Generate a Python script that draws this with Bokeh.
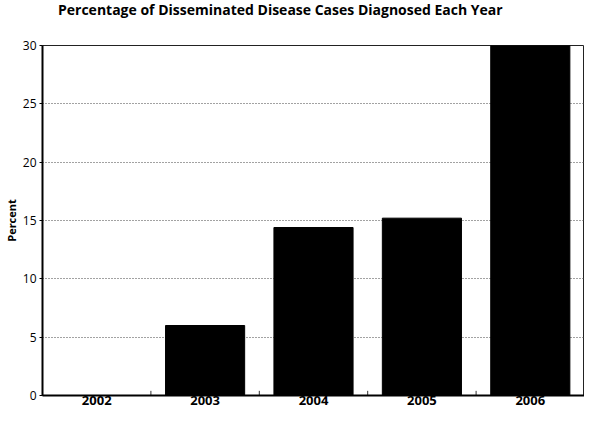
from bokeh.plotting import figure
from bokeh.models import Range1d, ColumnDataSource, FixedTicker, Div
from bokeh.layouts import column
from bokeh.transform import dodge
from bokeh.embed import file_html
from bokeh.resources import INLINE

title_text = "Percentage of Disseminated Disease Cases Diagnosed Each Year"
years = ["2002", "2003", "2004", "2005", "2006"]
percent = [0.0, 6.0, 14.4, 15.2, 30.0]
y_ticks = [0, 5, 10, 15, 20, 25, 30]

src = ColumnDataSource(dict(year=years, pct=percent))

title = Div(text=title_text, width=584, height=25, margin=(0, 0, 0, 0),
            styles={"font-family": "Open Sans", "font-weight": "bold", "font-size": "14px",
                    "color": "black", "padding-left": "58px", "padding-top": "1px",
                    "line-height": "18px", "white-space": "nowrap"})

p = figure(x_range=years, y_range=Range1d(0, 30), width=584, height=382,
           output_backend="svg", toolbar_location=None,
           min_border_left=37, min_border_right=0, min_border_top=20, min_border_bottom=0)

p.vbar(x="year", top="pct", width=0.73, source=src, fill_color="black", line_color="black")

bsrc = ColumnDataSource(dict(year=years[:-1], y0=[0]*4, y1=[0.4]*4))
p.segment(x0=dodge("year", 0.5, range=p.x_range), x1=dodge("year", 0.5, range=p.x_range),
          y0="y0", y1="y1", source=bsrc, line_color="#333333", line_width=1)

p.xgrid.grid_line_color = None
p.ygrid.grid_line_color = "#444444"
p.ygrid.grid_line_dash = "1 2"
p.ygrid.grid_line_width = 1

p.yaxis.ticker = FixedTicker(ticks=y_ticks)
p.yaxis.axis_label = "Percent"
p.yaxis.axis_label_text_font = "Open Sans"
p.yaxis.axis_label_text_font_style = "bold"
p.yaxis.axis_label_text_font_size = "11px"
p.yaxis.axis_label_text_color = "black"
p.yaxis.axis_label_standoff = 1
p.yaxis.major_label_text_font = "Open Sans"
p.yaxis.major_label_text_font_size = "12px"
p.yaxis.major_label_text_color = "black"
p.yaxis.major_label_standoff = 3
p.yaxis.axis_line_width = 2
p.yaxis.axis_line_color = "black"
p.yaxis.major_tick_out = 3
p.yaxis.major_tick_in = 0
p.yaxis.major_tick_line_color = "black"
p.yaxis.minor_tick_line_color = None

p.xaxis.major_label_text_font = "Open Sans"
p.xaxis.major_label_text_font_style = "bold"
p.xaxis.major_label_text_font_size = "13px"
p.xaxis.major_label_text_color = "black"
p.xaxis.major_label_standoff = 0
p.xaxis.axis_line_width = 2
p.xaxis.axis_line_color = "black"
p.xaxis.major_tick_line_color = None
p.xaxis.major_tick_out = 0
p.xaxis.major_tick_in = 0

p.outline_line_color = "#222222"
p.outline_line_width = 1

layout = column(title, p, spacing=0)

open("out.html", "w").write(file_html(layout, INLINE))
